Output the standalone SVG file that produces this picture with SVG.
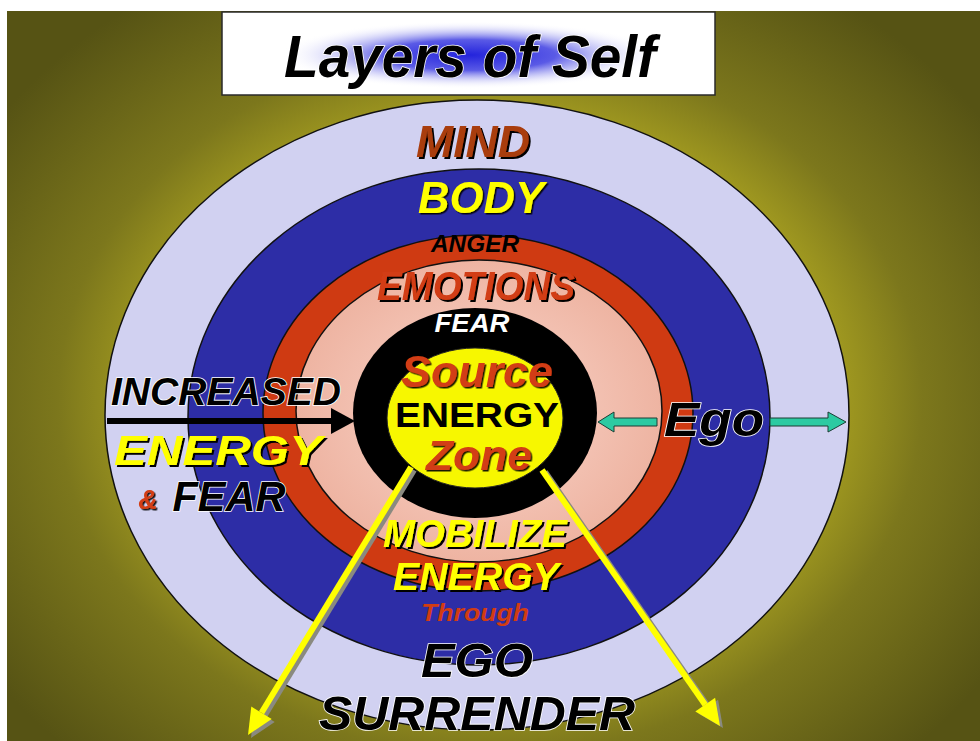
<svg xmlns="http://www.w3.org/2000/svg" width="980" height="741" viewBox="0 0 980 741">
  <defs>
    <radialGradient id="bg" gradientUnits="userSpaceOnUse" cx="490" cy="400" r="600" gradientTransform="translate(490 400) scale(1 0.82) translate(-490 -400)">
      <stop offset="0" stop-color="#c4bc28"/>
      <stop offset="0.55" stop-color="#aaa221"/>
      <stop offset="0.72" stop-color="#7c771c"/>
      <stop offset="1" stop-color="#565314"/>
    </radialGradient>
    <radialGradient id="glow" cx="0.5" cy="0.5" r="0.5">
      <stop offset="0" stop-color="#2424dc"/>
      <stop offset="0.45" stop-color="#5a5ae6"/>
      <stop offset="1" stop-color="#ffffff" stop-opacity="0"/>
    </radialGradient>
    <radialGradient id="pinkg" cx="0.5" cy="0.5" r="0.5">
      <stop offset="0.6" stop-color="#f3c2b3"/>
      <stop offset="1" stop-color="#eeb4a2"/>
    </radialGradient>
    <filter id="sh" x="-10%" y="-20%" width="130%" height="150%">
      <feDropShadow dx="2" dy="2" stdDeviation="0.4" flood-color="#000" flood-opacity="1"/>
    </filter>
    <filter id="sh1" x="-10%" y="-20%" width="130%" height="150%">
      <feDropShadow dx="1.5" dy="1.5" stdDeviation="0.3" flood-color="#000" flood-opacity="0.9"/>
    </filter>
  </defs>
  <style>
    text { font-family: "Liberation Sans", Arial, sans-serif; font-weight: bold; font-style: italic; text-anchor: middle; }
    .ring { stroke: #111; stroke-width: 1.5; }
    .blk { fill: #000; stroke: #fff; stroke-width: 1.6; paint-order: stroke; }
    .red { fill: #d23c12; filter: url(#sh); }
    .yel { fill: #ffff00; filter: url(#sh); }
    .ylw { stroke: #ffff00; stroke-width: 6; fill: none; }
    .yshadow { stroke: #8a8a80; stroke-width: 6; fill: none; }
    .teal { fill: #2ccaa2; stroke: #1d3d34; stroke-width: 1; }
  </style>

  <rect x="0" y="0" width="980" height="741" fill="#ffffff"/>
  <rect x="7" y="11" width="973" height="730" fill="url(#bg)"/>

  <g id="title">
    <rect x="222" y="12" width="493" height="83" fill="#ffffff" stroke="#2a2a2a" stroke-width="1.5"/>
    <ellipse cx="470" cy="55" rx="190" ry="34" fill="url(#glow)"/>
    <text x="470" y="77" font-size="60" textLength="372" lengthAdjust="spacingAndGlyphs" class="blk" stroke-width="1.2">Layers of Self</text>
  </g>

  <g id="layer-mind">
    <ellipse cx="477" cy="415" rx="372" ry="315" fill="#d1d1f1" class="ring"/>
  </g>
  <g id="layer-body">
    <ellipse cx="479" cy="417" rx="291" ry="248" fill="#2d2da6" class="ring"/>
  </g>
  <g id="layer-emotions-ring">
    <ellipse cx="478" cy="413" rx="215" ry="178" fill="#cf3a12" class="ring"/>
  </g>
  <g id="layer-emotions">
    <ellipse cx="479" cy="411" rx="183" ry="151" fill="url(#pinkg)" class="ring"/>
  </g>
  <g id="layer-fear">
    <ellipse cx="475" cy="413" rx="122" ry="105" fill="#000000"/>
  </g>
  <g id="source-zone">
    <ellipse cx="475" cy="418" rx="88" ry="70" fill="#f7f700" stroke="#222" stroke-width="1"/>
  </g>

  <g id="connectors">
    <line x1="107" y1="421" x2="336" y2="421" stroke="#000" stroke-width="6"/>
    <polygon points="331,408 355,421 331,434" fill="#000"/>
    <polygon class="teal" points="598,422 614,412 614,418 657,418 657,426 614,426 614,432"/>
    <polygon class="teal" points="770,418 828,418 828,412 846,422 828,432 828,426 770,426"/>
    <line class="yshadow" x1="414" y1="470" x2="264.5" y2="715.8"/>
    <polygon points="274.7,722 251,738 254.3,709.6" fill="#8a8a80"/>
    <line class="yshadow" x1="545" y1="472" x2="708.2" y2="706.7"/>
    <polygon points="718.1,699.8 723,728 698.3,713.6" fill="#8a8a80"/>
    <line class="ylw" x1="411" y1="467" x2="261.5" y2="712.8"/>
    <polygon points="271.7,719 248,735 251.3,706.6" fill="#ffff00"/>
    <line class="ylw" x1="542" y1="470" x2="705.2" y2="704.7"/>
    <polygon points="715.1,697.8 720,726 695.3,711.6" fill="#ffff00"/>
  </g>

  <g id="labels">
    <text x="473" y="157" font-size="44" textLength="114" lengthAdjust="spacingAndGlyphs" fill="#a93d0e" filter="url(#sh)">MIND</text>
    <text x="481" y="213" font-size="44" textLength="126" lengthAdjust="spacingAndGlyphs" class="yel" style="filter:url(#sh1)">BODY</text>
    <text x="475" y="252" font-size="23" textLength="88" lengthAdjust="spacingAndGlyphs" fill="#000">ANGER</text>
    <text x="476" y="300" font-size="40" textLength="198" lengthAdjust="spacingAndGlyphs" class="red">EMOTIONS</text>
    <text x="472" y="332" font-size="25" textLength="75" lengthAdjust="spacingAndGlyphs" fill="#ffffff">FEAR</text>
    <text x="477" y="387" font-size="44" textLength="152" lengthAdjust="spacingAndGlyphs" class="red" style="filter:url(#sh1)">Source</text>
    <text x="477" y="427" font-size="35" textLength="164" lengthAdjust="spacingAndGlyphs" fill="#000" style="font-style:normal">ENERGY</text>
    <text x="479" y="470" font-size="42" textLength="106" lengthAdjust="spacingAndGlyphs" class="red" style="filter:url(#sh1)">Zone</text>

    <text x="226" y="405" font-size="38" textLength="230" lengthAdjust="spacingAndGlyphs" class="blk">INCREASED</text>
    <text x="218" y="465" font-size="43" textLength="208" lengthAdjust="spacingAndGlyphs" class="yel">ENERGY</text>
    <text x="148" y="509" font-size="27" fill="#d23c12" filter="url(#sh1)">&amp;</text>
    <text x="229" y="511" font-size="42" textLength="113" lengthAdjust="spacingAndGlyphs" class="blk">FEAR</text>

    <text x="714" y="436" font-size="48" textLength="100" lengthAdjust="spacingAndGlyphs" class="blk" stroke-width="2">Ego</text>

    <text x="475" y="547" font-size="38" textLength="184" lengthAdjust="spacingAndGlyphs" class="yel">MOBILIZE</text>
    <text x="476" y="590" font-size="38" textLength="166" lengthAdjust="spacingAndGlyphs" class="yel">ENERGY</text>
    <text x="475" y="621" font-size="24" textLength="108" lengthAdjust="spacingAndGlyphs" fill="#d23c12">Through</text>
    <text x="477" y="677" font-size="48" textLength="112" lengthAdjust="spacingAndGlyphs" class="blk" stroke-width="2">EGO</text>
    <text x="477" y="730" font-size="48" textLength="316" lengthAdjust="spacingAndGlyphs" class="blk" stroke-width="2">SURRENDER</text>
  </g>
</svg>
